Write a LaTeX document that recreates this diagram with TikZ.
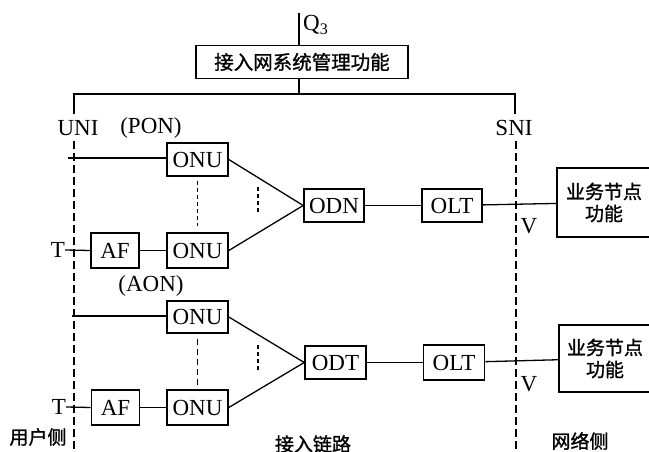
\documentclass[tikz,border=0pt]{standalone}
\usepackage{fontspec}
\setmainfont{Liberation Serif}
\newfontfamily\cjk[FakeBold=1.2]{Noto Sans CJK SC}
\begin{document}
\begin{tikzpicture}[x=1pt,y=-1pt,
  box/.style={draw, line width=1.6pt, minimum width=61pt, minimum height=34pt, inner sep=0pt, font=\fontsize{23}{25}\selectfont},
  snbox/.style={draw, line width=1.6pt, minimum width=94pt, minimum height=68pt, inner sep=0pt, align=center, font=\fontsize{19}{22}\selectfont\cjk},
  lbl/.style={inner sep=0pt, font=\fontsize{23}{25}\selectfont},
  cjklbl/.style={inner sep=0pt, font=\fontsize{19}{22}\selectfont\cjk},
  conn/.style={line width=1.3pt},
  bound/.style={line width=1.2pt, dash pattern=on 8pt off 4pt},
  dots/.style={line width=1.3pt, dash pattern=on 4pt off 3pt}]
\useasboundingbox (0,0) rectangle (649,452);
% management
\node[box, minimum width=212pt, minimum height=33pt, font=\fontsize{19.5}{22}\selectfont\cjk] (mgmt) at (302,62) {接入网系统管理功能};
\coordinate (q3) at (299,13);
\coordinate (busL) at (74,94);
\coordinate (busR) at (515,94);
\coordinate (uniS) at (74,114);
\coordinate (sniS) at (515,114);
\draw[conn] (q3) -- (q3 |- mgmt.north);
\draw[conn] (q3 |- mgmt.south) -- (q3 |- busL);
\draw[conn] (uniS) -- (busL) -- (busR) -- (sniS);
\node[lbl, anchor=west] (q3l) at (303,25) {Q\textsubscript{3}};
\node[lbl] (uni) at (78,128) {UNI};
\node[lbl] (pon) at (151,128) {(PON)};
\node[lbl] (sni) at (514,128) {SNI};
% boundaries
\coordinate (uT) at (74,141);
\coordinate (uB) at (74,452);
\coordinate (sT) at (516,141);
\coordinate (sB) at (516,452);
\draw[bound] (uT) -- (uB);
\draw[bound] (sT) -- (sB);
% PON
\node[box, minimum height=33pt] (onu1) at (197.5,159.5) {ONU};
\node[box, minimum height=35pt] (onu2) at (197.5,250.5) {ONU};
\node[box, minimum width=48pt, minimum height=35pt] (af1) at (115,250.5) {AF};
\node[box, minimum width=60pt, minimum height=33pt] (odn) at (334,205.5) {ODN};
\node[box, minimum width=60pt, minimum height=33pt] (olt1) at (452,205.5) {OLT};
\node[snbox, minimum height=69pt] (sn1) at (604,202.5) {业务节点\\功能};
\node[lbl] (t1) at (58,250) {T};
\node[lbl] (v1) at (529,226) {V};
\coordinate (p1) at (68,158);
\draw[conn] (p1) -- (p1 -| onu1.west);
\draw[conn] (t1.east) -- (af1.west);
\draw[conn] (af1) -- (onu2);
\draw[conn] (onu1.east) -- (odn.west);
\draw[conn] (onu2.east) -- (odn.west);
\draw[conn] (odn) -- (olt1);
\draw[conn] (olt1) -- (sn1);
\draw[dots, shorten <=4pt, shorten >=6pt] (onu1.south) -- (onu2.north);
\coordinate (d1a) at (258,187);
\coordinate (d1b) at (258,213);
\draw[dots] (d1a) -- (d1b);
% AON
\node[lbl] (aon) at (151,286) {(AON)};
\node[box, minimum height=32pt] (onu3) at (197.5,317) {ONU};
\node[box, minimum height=35pt] (onu4) at (197.5,407.5) {ONU};
\node[box, minimum width=48pt, minimum height=35pt] (af2) at (115.5,407.5) {AF};
\node[box, minimum width=61pt, minimum height=33pt] (odt) at (335.5,362.5) {ODT};
\node[box, minimum width=61pt, minimum height=35pt] (olt2) at (454,362.5) {OLT};
\node[snbox, minimum width=92pt, minimum height=67pt] (sn2) at (605,358.5) {业务节点\\功能};
\node[lbl] (t2) at (59,407) {T};
\node[lbl] (v2) at (529,384) {V};
\coordinate (p2) at (72,316);
\draw[conn] (p2) -- (p2 -| onu3.west);
\draw[conn] (t2.east) -- (af2.west);
\draw[conn] (af2) -- (onu4);
\draw[conn] (onu3.east) -- (odt.west);
\draw[conn] (onu4.east) -- (odt.west);
\draw[conn] (odt) -- (olt2);
\draw[conn] (olt2) -- (sn2);
\draw[bound, dash pattern=on 6pt off 4pt, shorten <=5pt, shorten >=3pt] (onu3.south) -- (onu4.north);
\coordinate (d2a) at (258,345);
\coordinate (d2b) at (258,372);
\draw[dots] (d2a) -- (d2b);
% bottom labels
\node[cjklbl] (user) at (38,437) {用户侧};
\node[cjklbl] (link) at (313,444) {接入链路};
\node[cjklbl] (net) at (580,441) {网络侧};
\end{tikzpicture}
\end{document}
